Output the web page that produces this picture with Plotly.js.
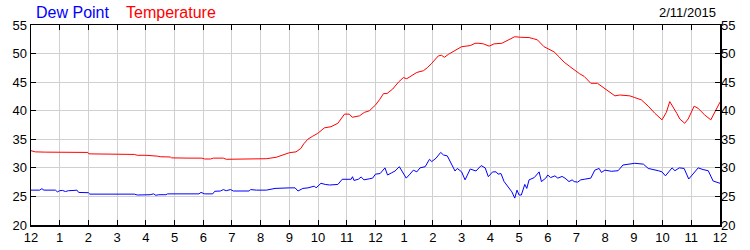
<!DOCTYPE html>
<html>
<head>
<meta charset="utf-8">
<script src="https://cdn.plot.ly/plotly-3.0.1.min.js"></script>
<style>html,body{margin:0;padding:0;background:#fff;}#chart{width:750px;height:250px;}</style>
</head>
<body>
<div id="chart"></div>
<script>
// Hours after midnight (0..24) and readings in degrees F
const tempHours = [0,0.15,0.5,1.0,1.5,1.98,2.02,2.5,3.0,3.6,3.7,4.0,4.4,4.5,4.85,4.9,5.5,5.95,6.05,6.25,6.35,6.7,6.8,7.5,7.85,8.2,8.54,8.8,9.0,9.23,9.4,9.5,9.64,9.8,9.99,10.22,10.45,10.69,10.8,10.92,11.09,11.19,11.44,11.61,11.79,12.0,12.15,12.28,12.4,12.6,12.8,12.97,13.09,13.25,13.44,13.67,13.8,13.96,14.1,14.19,14.3,14.4,14.55,14.72,14.85,15.0,15.3,15.47,15.6,15.76,15.96,16.13,16.4,16.66,16.85,17.06,17.35,17.5,17.64,17.87,18.05,18.22,18.4,18.57,18.75,18.92,19.1,19.27,19.4,19.5,19.73,19.99,20.15,20.34,20.51,20.86,21.03,21.26,21.5,21.73,21.98,22.13,22.25,22.37,22.5,22.6,22.77,22.89,23.0,23.1,23.24,23.47,23.68,23.82,24.0];
const tempValues = [33.0,32.8,32.75,32.75,32.75,32.7,32.45,32.4,32.4,32.35,32.2,32.2,32.05,31.95,31.9,31.75,31.7,31.7,31.55,31.55,31.7,31.7,31.5,31.5,31.5,31.6,31.85,32.3,32.65,32.8,33.4,34.2,35.0,35.5,36.05,37.0,37.2,37.8,38.5,39.4,39.4,38.85,39.1,39.7,40.0,41.0,42.0,43.0,43.0,43.8,45.0,45.8,45.6,46.1,46.7,47.0,47.5,48.3,49.0,49.6,49.7,49.35,49.9,50.45,50.8,51.2,51.4,51.8,51.8,51.7,51.3,51.7,51.8,52.4,52.95,52.85,52.8,52.6,52.4,51.2,50.8,50.3,49.4,48.5,47.8,47.1,46.5,46.0,45.4,44.8,44.8,43.9,43.2,42.6,42.75,42.6,42.3,41.9,40.8,39.55,38.4,39.7,41.6,40.7,39.5,38.55,37.8,38.55,39.8,40.8,40.4,39.25,38.4,39.85,41.5];

const dewHours = [0,0.3,0.38,0.45,0.85,0.92,1.0,1.1,1.2,1.3,1.5,1.6,1.66,2.0,2.05,2.5,3.0,3.6,3.7,4.0,4.15,4.27,4.35,4.45,4.7,4.76,5.5,5.85,5.92,6.05,6.33,6.4,6.6,6.7,6.8,6.95,7.05,7.6,7.65,7.85,8.2,8.5,9.0,9.2,9.3,9.47,9.65,9.8,9.87,9.93,10.1,10.25,10.4,10.69,10.84,11.15,11.2,11.25,11.4,11.5,11.6,11.8,11.9,12.0,12.16,12.33,12.42,12.55,12.68,12.83,13.07,13.2,13.32,13.44,13.55,13.73,13.88,13.96,14.11,14.27,14.37,14.5,14.77,14.85,15.0,15.12,15.3,15.5,15.68,15.82,15.93,16.08,16.2,16.27,16.37,16.48,16.66,16.75,16.85,16.93,17.0,17.08,17.2,17.27,17.35,17.53,17.7,17.78,17.93,18.0,18.1,18.25,18.35,18.5,18.6,18.74,18.85,18.92,19.04,19.15,19.27,19.5,19.64,19.79,19.87,19.99,20.22,20.45,20.62,20.75,20.86,21.03,21.33,21.5,21.85,21.98,22.1,22.25,22.33,22.43,22.58,22.75,22.91,23.03,23.24,23.41,23.59,23.76,24.0];
const dewValues = [26.1,26.1,26.35,26.1,26.1,25.8,26.0,26.05,25.85,26.0,26.05,26.1,25.7,25.65,25.4,25.4,25.4,25.4,25.25,25.25,25.3,25.45,25.2,25.3,25.3,25.45,25.45,25.45,25.7,25.45,25.45,25.9,25.95,26.2,26.0,26.2,25.95,25.95,26.2,26.1,26.1,26.4,26.5,26.5,25.95,26.4,26.5,26.8,26.8,26.5,27.3,27.1,27.0,27.1,28.0,28.0,28.45,27.8,28.0,28.4,27.9,28.1,28.2,28.9,29.0,30.0,28.75,29.1,29.45,30.2,28.2,28.9,29.6,29.3,30.0,30.2,31.5,31.1,31.7,32.7,32.25,32.1,29.45,29.9,29.3,27.9,29.8,29.45,30.4,30.0,28.45,29.3,29.3,28.9,29.0,27.6,26.5,25.8,24.7,26.1,25.25,25.25,27.1,26.4,27.9,28.3,29.3,27.6,28.2,28.75,28.3,28.6,28.2,28.5,28.2,27.6,27.9,27.6,27.5,27.9,28.0,28.2,29.6,29.9,29.2,29.6,29.4,29.5,30.5,30.6,30.8,30.8,30.65,29.9,29.5,29.3,28.6,29.5,30.0,29.5,30.0,29.9,28.05,28.75,30.0,29.7,29.5,27.7,27.3];

const hourTickVals = [0,1,2,3,4,5,6,7,8,9,10,11,12,13,14,15,16,17,18,19,20,21,22,23,24];
const hourTickText = ["12","1","2","3","4","5","6","7","8","9","10","11","12","1","2","3","4","5","6","7","8","9","10","11","12"];
const seriesNames = ["Dew Point", "Temperature"];
const dateLabel = "2/11/2015";

const FONT = "Liberation Sans, Arial, sans-serif";

const traces = [
  {x: tempHours, y: tempValues, type: 'scatter', mode: 'lines', name: seriesNames[1],
   line: {color: '#ff0000', width: 1}, yaxis: 'y', hoverinfo: 'skip'},
  {x: dewHours, y: dewValues, type: 'scatter', mode: 'lines', name: seriesNames[0],
   line: {color: '#0000ff', width: 1}, yaxis: 'y2', hoverinfo: 'skip'}
];

const axisCommon = {
  showline: true, linecolor: '#000', linewidth: 1.5,
  ticks: 'inside', ticklen: 5, tickcolor: '#000', tickwidth: 1,
  tickfont: {family: FONT, size: 13, color: '#000'},
  zeroline: false, fixedrange: true
};

const layout = {
  width: 750, height: 250,
  margin: {l: 31, r: 30, t: 25, b: 25, pad: 0},
  paper_bgcolor: '#fff', plot_bgcolor: '#fff',
  showlegend: false,
  font: {family: FONT, size: 13, color: '#000'},
  xaxis: Object.assign({}, axisCommon, {
    range: [0, 24], tickmode: 'array', tickvals: hourTickVals, ticktext: hourTickText,
    showgrid: true, gridcolor: '#d0d0d0', gridwidth: 1, mirror: 'ticks'
  }),
  yaxis: Object.assign({}, axisCommon, {
    range: [20, 55], tickmode: 'linear', tick0: 20, dtick: 5,
    showgrid: true, gridcolor: '#d0d0d0', gridwidth: 1, mirror: 'ticks'
  }),
  yaxis2: Object.assign({}, axisCommon, {
    range: [20, 55], tickmode: 'linear', tick0: 20, dtick: 5,
    overlaying: 'y', side: 'right', showgrid: false, showline: false, ticks: ''
  }),
  annotations: [
    {xref: 'paper', yref: 'paper', x: 0.004, y: 1.0625, xanchor: 'left', yanchor: 'middle',
     text: seriesNames[0], showarrow: false, font: {family: FONT, size: 16, color: '#0000ff'}},
    {xref: 'paper', yref: 'paper', x: 0.135, y: 1.0625, xanchor: 'left', yanchor: 'middle',
     text: seriesNames[1], showarrow: false, font: {family: FONT, size: 16, color: '#ff0000'}},
    {xref: 'paper', yref: 'paper', x: 0.997, y: 1.06, xanchor: 'right', yanchor: 'middle',
     text: dateLabel, showarrow: false, font: {family: FONT, size: 13, color: '#000'}}
  ]
};

Plotly.newPlot('chart', traces, layout, {staticPlot: true, displayModeBar: false});
</script>
</body>
</html>
